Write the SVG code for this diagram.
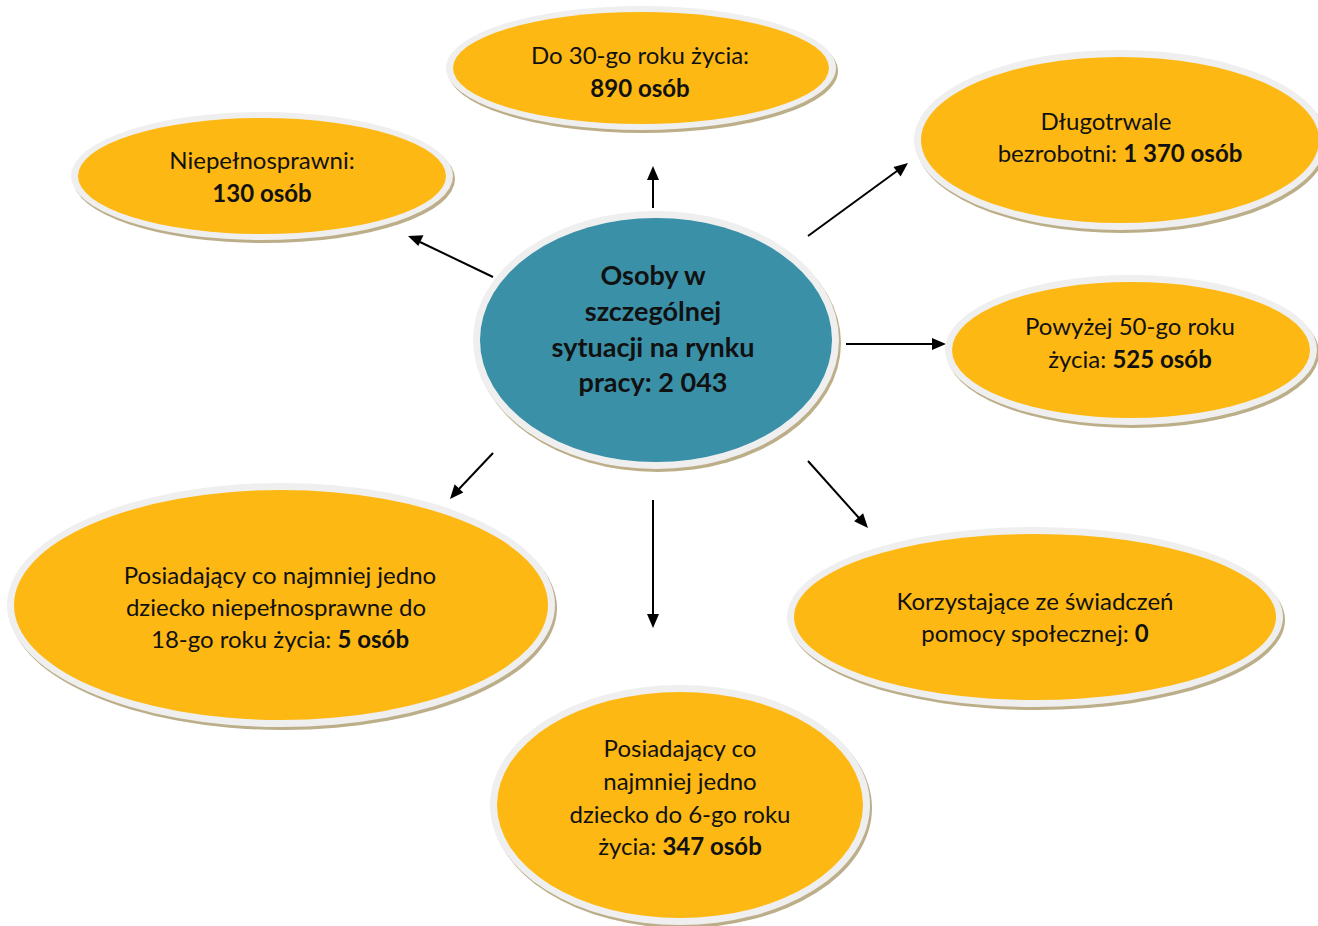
<svg xmlns="http://www.w3.org/2000/svg" width="1318" height="926" viewBox="0 0 1318 926">
<style>
.sh{fill:#bcae88}
.rim{fill:#efefef}
.or{fill:#fdb813}
.tl{fill:#3a90a7}
text{font-family:Lato,"Liberation Sans",sans-serif;font-size:24px;fill:#111;text-anchor:middle}
.b{font-weight:bold}
.c{font-size:27px;font-weight:bold}
</style>
<rect width="1318" height="926" fill="#fff"/>
<g id="connectors">
<line x1="653" y1="208" x2="653" y2="178" stroke="#000" stroke-width="2"/>
<path d="M653,166 l-6,14 h12 z" fill="#000"/>
<line x1="493" y1="277" x2="420" y2="242" stroke="#000" stroke-width="2"/>
<path d="M408,236 L423.5,235.3 L418.3,246.1 z" fill="#000"/>
<line x1="808" y1="236" x2="897" y2="171" stroke="#000" stroke-width="2"/>
<path d="M908,163 L900.6,176.6 L893.5,166.9 z" fill="#000"/>
<line x1="846" y1="344" x2="933" y2="344" stroke="#000" stroke-width="2"/>
<path d="M946,344 L932,338 L932,350 z" fill="#000"/>
<line x1="493" y1="453" x2="459" y2="489" stroke="#000" stroke-width="2"/>
<path d="M450,499 L454.6,484.2 L463.3,492.4 z" fill="#000"/>
<line x1="653" y1="500" x2="653" y2="614" stroke="#000" stroke-width="2"/>
<path d="M653,628 L647,614 L659,614 z" fill="#000"/>
<line x1="808" y1="461" x2="859" y2="518" stroke="#000" stroke-width="2"/>
<path d="M868,528 L854.1,521.2 L863.1,513.2 z" fill="#000"/>
</g>
<g id="n-center">
<ellipse class="sh" cx="658" cy="343" rx="183" ry="129"/>
<ellipse class="rim" cx="656" cy="340" rx="183" ry="129"/>
<ellipse class="tl" cx="656" cy="340" rx="176" ry="122"/>
<text class="c" x="653" y="285">Osoby w</text>
<text class="c" x="653" y="321">szczególnej</text>
<text class="c" x="653" y="357">sytuacji na rynku</text>
<text class="c" x="653" y="392">pracy: 2 043</text>
</g>
<g id="n-do30">
<ellipse class="sh" cx="643" cy="71" rx="195" ry="62"/>
<ellipse class="rim" cx="641" cy="68" rx="195" ry="62"/>
<ellipse class="or" cx="641" cy="68" rx="188" ry="56"/>
<text x="640" y="64">Do 30-go roku życia:</text>
<text class="b" x="640" y="97">890 osób</text>
</g>
<g id="n-niepel">
<ellipse class="sh" cx="264" cy="179" rx="191" ry="64"/>
<ellipse class="rim" cx="262" cy="176" rx="191" ry="64"/>
<ellipse class="or" cx="262" cy="176" rx="184" ry="58"/>
<text x="262" y="169">Niepełnosprawni:</text>
<text class="b" x="262" y="202">130 osób</text>
</g>
<g id="n-dlugo">
<ellipse class="sh" cx="1122" cy="143" rx="206" ry="90"/>
<ellipse class="rim" cx="1120" cy="140" rx="206" ry="90"/>
<ellipse class="or" cx="1120" cy="140" rx="199" ry="83"/>
<text x="1106" y="130">Długotrwale</text>
<text x="1120" y="162">bezrobotni: <tspan class="b">1 370 osób</tspan></text>
</g>
<g id="n-pow50">
<ellipse class="sh" cx="1133" cy="353" rx="186" ry="75"/>
<ellipse class="rim" cx="1131" cy="350" rx="186" ry="75"/>
<ellipse class="or" cx="1131" cy="350" rx="179" ry="68"/>
<text x="1130" y="335">Powyżej 50-go roku</text>
<text x="1130" y="368">życia: <tspan class="b">525 osób</tspan></text>
</g>
<g id="n-18">
<ellipse class="sh" cx="283" cy="608" rx="274" ry="122"/>
<ellipse class="rim" cx="281" cy="605" rx="274" ry="122"/>
<ellipse class="or" cx="281" cy="605" rx="267" ry="115"/>
<text x="280" y="584">Posiadający co najmniej jedno</text>
<text x="276" y="616">dziecko niepełnosprawne do</text>
<text x="280" y="648">18-go roku życia: <tspan class="b">5 osób</tspan></text>
</g>
<g id="n-korzyst">
<ellipse class="sh" cx="1037" cy="620" rx="248" ry="90"/>
<ellipse class="rim" cx="1035" cy="617" rx="248" ry="90"/>
<ellipse class="or" cx="1035" cy="617" rx="241" ry="83"/>
<text x="1035" y="610">Korzystające ze świadczeń</text>
<text x="1035" y="642">pomocy społecznej: <tspan class="b">0</tspan></text>
</g>
<g id="n-6">
<ellipse class="sh" cx="682" cy="808" rx="190" ry="120"/>
<ellipse class="rim" cx="680" cy="805" rx="190" ry="120"/>
<ellipse class="or" cx="680" cy="805" rx="183" ry="113"/>
<text x="680" y="757">Posiadający co</text>
<text x="680" y="790">najmniej jedno</text>
<text x="680" y="823">dziecko do 6-go roku</text>
<text x="680" y="855">życia: <tspan class="b">347 osób</tspan></text>
</g>
</svg>
